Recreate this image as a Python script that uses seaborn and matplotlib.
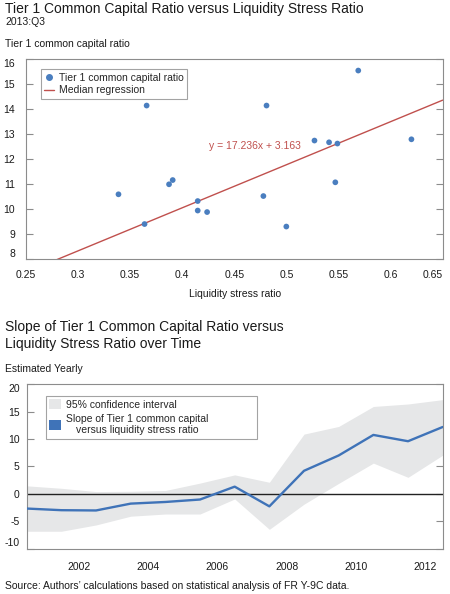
import matplotlib
matplotlib.use("Agg")
import matplotlib.pyplot as plt
from matplotlib.patches import Patch
from matplotlib.lines import Line2D
import seaborn as sns
import numpy as np
import pandas as pd

# ---------------- data ----------------
liquidity_ratio = [0.339, 0.366, 0.364, 0.3875, 0.391, 0.415, 0.415, 0.424,
                   0.478, 0.481, 0.500, 0.527, 0.541, 0.549, 0.547, 0.569, 0.620]
capital_ratio = [10.60, 14.15, 9.41, 11.00, 11.17, 10.33, 9.95, 9.89,
                 10.53, 14.15, 9.31, 12.75, 12.68, 12.63, 11.08, 15.55, 12.80]
reg_slope = 17.236
reg_intercept = 3.163

# yearly estimates, plotted at mid-points between year boundaries
period_pos = [2000.5, 2001.5, 2002.5, 2003.5, 2004.5, 2005.5, 2006.5,
              2007.5, 2008.5, 2009.5, 2010.5, 2011.5, 2012.5]
slope_est = [-2.7, -3.0, -3.05, -1.8, -1.5, -1.05, 1.3, -2.3, 4.2, 7.0, 10.75, 9.6, 12.2]
ci_upper = [1.45, 1.0, 0.4, 0.45, 0.6, 1.95, 3.45, 2.1, 10.9, 12.3, 15.95, 16.4, 17.2]
ci_lower = [-6.85, -6.85, -5.7, -4.1, -3.7, -3.7, -0.95, -6.5, -1.9, 1.9, 5.6, 3.0, 7.05]

x_ticks_top = [0.25, 0.3, 0.35, 0.4, 0.45, 0.5, 0.55, 0.6, 0.65]
x_ticklabels_top = ["0.25", "0.3", "0.35", "0.4", "0.45", "0.5", "0.55", "0.6", "0.65"]
y_ticks_top = [8, 9, 10, 11, 12, 13, 14, 15, 16]
y_ticks_bot = [-10, -5, 0, 5, 10, 15, 20]
year_labels = [2002, 2004, 2006, 2008, 2010, 2012]

# ---------------- style ----------------
sns.set_style("white")
plt.rcParams["font.family"] = ["Liberation Sans", "DejaVu Sans"]
plt.rcParams["font.size"] = 7.5
plt.rcParams["axes.unicode_minus"] = False
TXT = "#1a1a1a"
SPINE = "#8c8c8c"
BLUE_PT = "#4a7ebf"
BLUE_LN = "#3f73b8"
RED = "#c0504d"
BAND = "#e6e7e8"

fig = plt.figure(figsize=(4.5, 5.94), dpi=100)
W, H = 450, 594

def fy(px):
    return 1 - px / H

# ---------------- top chart ----------------
ax1 = fig.add_axes([25.7 / W, fy(259.3), (442.7 - 25.7) / W, (259.3 - 59.3) / H])
df1 = pd.DataFrame({"liq": liquidity_ratio, "cap": capital_ratio})
sns.scatterplot(data=df1, x="liq", y="cap", ax=ax1, color=BLUE_PT, s=17,
                edgecolor="none", zorder=3)
xr = np.array([0.25, 0.65])
df_reg = pd.DataFrame({"x": xr, "y": reg_slope * xr + reg_intercept})
sns.lineplot(data=df_reg, x="x", y="y", ax=ax1, color=RED, linewidth=1.0, zorder=2)
ax1.set_xlim(0.25, 0.65)
ax1.set_ylim(8, 16)
ax1.set_xticks(x_ticks_top)
ax1.set_xticklabels(x_ticklabels_top)
ax1.set_yticks(y_ticks_top)
ax1.set_xlabel("")
ax1.set_ylabel("")
ax1.tick_params(axis="x", direction="in", length=5, width=0.8, color=SPINE,
                pad=8, labelsize=7.5, labelcolor=TXT)
ax1.tick_params(axis="y", direction="in", length=5, width=0.8, color=SPINE,
                pad=7.5, labelsize=7.5, labelcolor=TXT, right=True, left=True)
ax1.get_xticklabels()[-1].set_ha("right")
ax1.get_yticklabels()[-1].set_va("top")
ax1.get_yticklabels()[0].set_va("bottom")
for s in ax1.spines.values():
    s.set_color(SPINE)
    s.set_linewidth(0.8)
ax1.text(0.47, 12.53, f"y = {reg_slope}x + {reg_intercept}", color=RED,
         fontsize=7.5, ha="center", va="center")
h1 = [Line2D([], [], marker="o", linestyle="none", color=BLUE_PT, markersize=4),
      Line2D([], [], color=RED, linewidth=1.0)]
leg1 = ax1.legend(h1, ["Tier 1 common capital ratio", "Median regression"],
                  loc="upper left", bbox_to_anchor=(0.036, 0.952), fontsize=7.5,
                  frameon=True, fancybox=False, edgecolor=SPINE, handlelength=0.9,
                  handletextpad=0.5, borderpad=0.35, labelspacing=0.25,
                  borderaxespad=0)
leg1.get_frame().set_linewidth(0.8)

# ---------------- bottom chart ----------------
ax2 = fig.add_axes([26.7 / W, fy(548.5), (442.7 - 26.7) / W, (548.5 - 384.3) / H])
df2 = pd.DataFrame({"pos": period_pos, "slope": slope_est,
                    "lo": ci_lower, "hi": ci_upper})
ax2.fill_between(df2["pos"], df2["lo"], df2["hi"], color=BAND, linewidth=0, zorder=1)
ax2.axhline(0, color="#222222", linewidth=1.0, zorder=2)
sns.lineplot(data=df2, x="pos", y="slope", ax=ax2, color=BLUE_LN, linewidth=1.7,
             zorder=3)
ax2.set_xlim(period_pos[0], period_pos[-1])
ax2.set_ylim(-10, 20)
ax2.set_yticks(y_ticks_bot)
ax2.set_xticks(year_labels)
ax2.set_xticklabels([str(y) for y in year_labels])
ax2.set_xticks(period_pos[1:-1], minor=True)
ax2.set_xlabel("")
ax2.set_ylabel("")
ax2.tick_params(axis="x", which="major", length=0, pad=10, labelsize=7.5,
                labelcolor=TXT)
ax2.tick_params(axis="x", which="minor", direction="in", length=5, width=0.8,
                color=SPINE)
ax2.tick_params(axis="y", direction="in", length=5, width=0.8, color=SPINE,
                pad=5, labelsize=7.5, labelcolor=TXT, right=True, left=True)
ax2.get_yticklabels()[-1].set_va("top")
ax2.get_yticklabels()[0].set_va("bottom")
for s in ax2.spines.values():
    s.set_color(SPINE)
    s.set_linewidth(0.8)
h2 = [Patch(facecolor=BAND, edgecolor="none"),
      Patch(facecolor=BLUE_LN, edgecolor="none")]
leg2 = ax2.legend(h2, ["95% confidence interval",
                       "Slope of Tier 1 common capital\nversus liquidity stress ratio"],
                  loc="upper left", bbox_to_anchor=(0.046, 0.659, 0.508, 0.271),
                  mode="expand", fontsize=7.5,
                  frameon=True, fancybox=False, edgecolor=SPINE, handlelength=1.1,
                  handleheight=1.1, handletextpad=0.5, borderpad=0.35,
                  labelspacing=0.35, borderaxespad=0)
leg2.get_frame().set_linewidth(0.8)
for t in leg2.get_texts():
    t.set_multialignment("center")

# ---------------- figure text ----------------
fig.text(5 / W, fy(12.7), "Tier 1 Common Capital Ratio versus Liquidity Stress Ratio",
         fontsize=10, color=TXT, va="baseline", ha="left")
fig.text(5 / W, fy(25), "2013:Q3", fontsize=7.5, color=TXT, va="baseline", ha="left")
fig.text(5 / W, fy(46.7), "Tier 1 common capital ratio", fontsize=7.5, color=TXT,
         va="baseline", ha="left")
fig.text(235 / W, fy(297), "Liquidity stress ratio", fontsize=7.5, color=TXT,
         va="baseline", ha="center")
fig.text(5 / W, fy(330.7), "Slope of Tier 1 Common Capital Ratio versus",
         fontsize=10, color=TXT, va="baseline", ha="left")
fig.text(5 / W, fy(347.7), "Liquidity Stress Ratio over Time",
         fontsize=10, color=TXT, va="baseline", ha="left")
fig.text(5 / W, fy(372.3), "Estimated Yearly", fontsize=7.5, color=TXT,
         va="baseline", ha="left")
fig.text(5 / W, fy(589.3),
         "Source: Authors\u2019 calculations based on statistical analysis of FR Y-9C data.",
         fontsize=7.5, color=TXT, va="baseline", ha="left")

fig.savefig("out.png", dpi=100)
